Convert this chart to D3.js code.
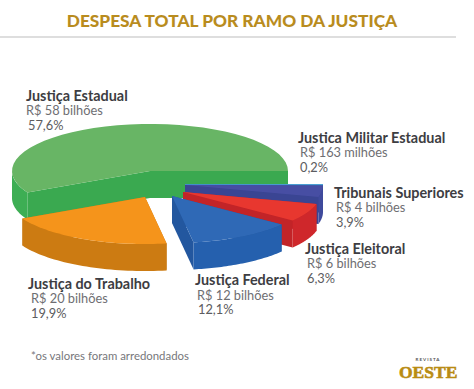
<!DOCTYPE html>
<html>
<head>
<meta charset="utf-8">
<script src="https://cdn.jsdelivr.net/npm/d3@7"></script>
<style>
  html, body { margin: 0; padding: 0; background: #fff; }
  svg { display: block; }
  text { font-family: Lato, sans-serif; }
</style>
</head>
<body>
<div id="chart-container"></div>
<script>
// Chart data
const branches = ['Justiça Estadual', 'Justica Militar Estadual', 'Tribunais Superiores', 'Justiça Eleitoral', 'Justiça Federal', 'Justiça do Trabalho'];
const shares = [57.6, 0.2, 3.9, 6.3, 12.1, 19.9];
const amounts = ['R$ 58 bilhões', 'R$ 163 milhões', 'R$ 4 bilhões', 'R$ 6 bilhões', 'R$ 12 bilhões', 'R$ 20 bilhões'];
const shareLabels = ['57,6%', '0,2%', '3,9%', '6,3%', '12,1%', '19,9%'];

// Layout, per slice: where its tip sits, colours and where the label goes
const tips = [[150, 171], [185, 184], [185, 185], [183, 192], [172, 196], [145, 197]];
const topColors = ['#68b565', '#5cb3e0', '#474ea3', '#e8372f', '#2f69b6', '#f5941b'];
const sideColors = ['#3dae54', '#3f8fc8', '#3f4a9c', '#cf272b', '#2560ae', '#cc7b12'];
const cutColors = ['#3aa950', '#3f8fc8', '#3a4593', '#c22428', '#23579f', '#c27410'];
const labelPos = [[26, 101, 26, 115, 28, 130], [298, 143, 300, 157, 300, 172], [334, 198, 336, 212, 336, 227],
  [305, 254, 307, 268, 307, 283], [195, 285, 197, 300, 198, 314], [28, 289, 31, 302.5, 31, 318]];

const width = 474, height = 389;
const rx = 138, ry = 47, depth = 27;

const svg = d3.select('#chart-container').append('svg')
  .attr('width', width)
  .attr('height', height);

// Title and rule
svg.append('text')
  .attr('x', 232).attr('y', 27)
  .attr('text-anchor', 'middle')
  .attr('font-size', 17.3).attr('font-weight', 900)
  .attr('fill', '#b98c1e')
  .text('DESPESA TOTAL POR RAMO DA JUSTIÇA');

svg.append('line')
  .attr('x1', 0).attr('x2', 456)
  .attr('y1', 37).attr('y2', 37)
  .attr('stroke', '#bdbdbd').attr('stroke-width', 1);

// Pie angles: the green slice ends at 3 o'clock
const greenStart = Math.PI / 2 - shares[0] / 100 * 2 * Math.PI;
const arcs = d3.pie().sort(null)
  .startAngle(greenStart)
  .endAngle(greenStart + 2 * Math.PI)(shares);

// d3 angles run clockwise from 12 o'clock, flatten them onto the ellipse
const project = (tip, a, drop = 0) => [
  tip[0] + rx * Math.sin(a),
  tip[1] - ry * Math.cos(a) + drop
];

const line = d3.line().curve(d3.curveLinear);
const sweep = (a0, a1) => d3.range(0, 41).map(i => a0 + (a1 - a0) * i / 40);

function drawWall(g, tip, a0, a1, color) {
  const angles = sweep(a0, a1);
  const pts = angles.map(a => project(tip, a))
    .concat(angles.slice().reverse().map(a => project(tip, a, depth)));
  g.append('path').attr('d', line(pts) + 'Z').attr('fill', color);
}

function drawSlice(d, i) {
  const tip = tips[i];
  const a0 = d.startAngle, a1 = d.endAngle;
  const g = svg.append('g').attr('class', 'slice');

  // cut faces
  [a0, a1].forEach(a => {
    const outer = project(tip, a);
    g.append('path')
      .attr('d', line([tip, outer, [outer[0], outer[1] + depth], [tip[0], tip[1] + depth]]) + 'Z')
      .attr('fill', cutColors[i]);
  });

  // outer wall, only the part that faces the viewer (90 to 270 degrees)
  if (a0 < -Math.PI / 2) {
    // green wraps past 12 o'clock, its wall sits at the start of the slice
    drawWall(g, tip, a0, -Math.PI / 2, sideColors[i]);
  } else if (a0 >= Math.PI / 2) {
    drawWall(g, tip, a0, Math.min(a1, 3 * Math.PI / 2), sideColors[i]);
  }

  // top face
  g.append('path')
    .attr('d', line([tip].concat(sweep(a0, a1).map(a => project(tip, a)))) + 'Z')
    .attr('fill', topColors[i]);
}

// the thin slice goes first, so only its top edge stays above the next one
arcs.forEach(drawSlice);

// Labels
branches.forEach((name, i) => {
  const p = labelPos[i];
  const g = svg.append('g').attr('class', 'label');
  g.append('text').attr('x', p[0]).attr('y', p[1])
    .attr('font-size', 14.4).attr('font-weight', 700).attr('fill', '#3d3d42')
    .text(name);
  g.append('text').attr('x', p[2]).attr('y', p[3])
    .attr('font-size', 12.8).attr('fill', '#6e6e72')
    .text(amounts[i]);
  g.append('text').attr('x', p[4]).attr('y', p[5])
    .attr('font-size', 12.8).attr('fill', '#5c5c60')
    .text(shareLabels[i]);
});

// Footnote
svg.append('text')
  .attr('x', 31).attr('y', 360)
  .attr('font-size', 11.4).attr('fill', '#77777b')
  .text('*os valores foram arredondados');

// Logo
svg.append('text')
  .attr('x', 428).attr('y', 361)
  .attr('text-anchor', 'middle')
  .attr('font-size', 4.5).attr('font-weight', 700)
  .attr('letter-spacing', 1).attr('fill', '#555')
  .text('REVISTA');
svg.append('text')
  .attr('x', 399).attr('y', 378)
  .attr('font-size', 17.5).attr('font-weight', 700)
  .attr('fill', '#b98c12').attr('stroke', '#b98c12').attr('stroke-width', 0.6)
  .style('font-family', '"Liberation Serif", serif')
  .text('OESTE');
</script>
</body>
</html>
